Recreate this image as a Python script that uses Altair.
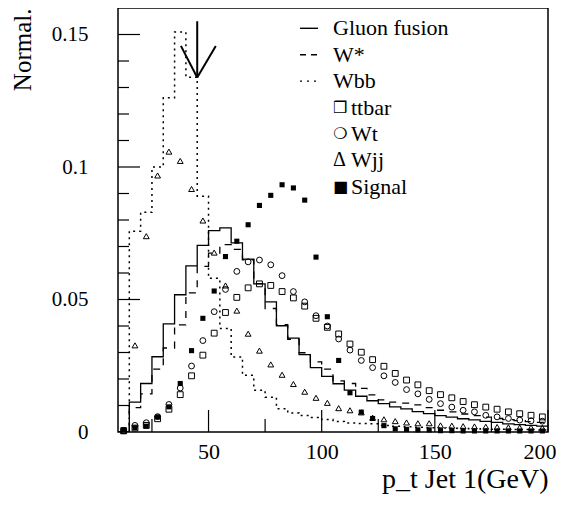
import altair as alt
import pandas as pd

# ---------------- data ----------------
bin_centers = [12.5, 17.5, 22.5, 27.5, 32.5, 37.5, 42.5, 47.5, 52.5, 57.5,
               62.5, 67.5, 72.5, 77.5, 82.5, 87.5, 92.5, 97.5, 102.5, 107.5,
               112.5, 117.5, 122.5, 127.5, 132.5, 137.5, 142.5, 147.5, 152.5, 157.5,
               162.5, 167.5, 172.5, 177.5, 182.5, 187.5, 192.5, 197.5]
bin_width = 5

gluon = [0.0, 0.0113, 0.0183, 0.0284, 0.0408, 0.0518, 0.0627, 0.0704, 0.0760, 0.0770,
         0.0714, 0.0652, 0.0559, 0.0491, 0.0401, 0.0354, 0.0292, 0.0243, 0.0210, 0.0182,
         0.0158, 0.0135, 0.0118, 0.0107, 0.0095, 0.0087, 0.0077, 0.0069, 0.0062, 0.0056,
         0.0050, 0.0046, 0.0040, 0.0036, 0.0031, 0.0028, 0.0025, 0.0022]
wstar = [0.0, 0.0092, 0.0144, 0.0237, 0.0317, 0.0404, 0.0525, 0.0625, 0.0675, 0.0707,
         0.0689, 0.0650, 0.0560, 0.0466, 0.0405, 0.0350, 0.0299, 0.0265, 0.0237, 0.0193,
         0.0183, 0.0165, 0.0140, 0.0121, 0.0113, 0.0109, 0.0102, 0.0092, 0.0082, 0.0076,
         0.0068, 0.0062, 0.0056, 0.0051, 0.0047, 0.0043, 0.0039, 0.0036]
wbb = [0.0, 0.0758, 0.0829, 0.1000, 0.1261, 0.1509, 0.1339, 0.0890, 0.0580, 0.0391,
       0.0283, 0.0214, 0.0158, 0.0131, 0.0088, 0.0072, 0.0062, 0.0055, 0.0047, 0.0040,
       0.0034, 0.0032, 0.0031, 0.0025, 0.0022, 0.0020, 0.0018, 0.0016, 0.0015, 0.0014,
       0.0013, 0.0012, 0.0011, 0.0010, 0.0010, 0.0009, 0.0009, 0.0008]
ttbar = [0.0005, 0.0015, 0.0025, 0.0050, 0.0086, 0.0141, 0.0212, 0.0290, 0.0373, 0.0451,
         0.0508, 0.0544, 0.0559, 0.0553, 0.0530, 0.0506, 0.0475, 0.0429, 0.0395, 0.0370,
         0.0332, 0.0301, 0.0273, 0.0248, 0.0221, 0.0196, 0.0178, 0.0156, 0.0141, 0.0129,
         0.0115, 0.0103, 0.0094, 0.0086, 0.0076, 0.0069, 0.0063, 0.0057]
wt = [0.0005, 0.0025, 0.0035, 0.0058, 0.0104, 0.0166, 0.0249, 0.0345, 0.0454, 0.0538,
      0.0606, 0.0642, 0.0649, 0.0631, 0.0590, 0.0530, 0.0491, 0.0439, 0.0400, 0.0351,
      0.0309, 0.0270, 0.0243, 0.0212, 0.0187, 0.0160, 0.0144, 0.0123, 0.0107, 0.0094,
      0.0082, 0.0076, 0.0063, 0.0057, 0.0051, 0.0045, 0.0042, 0.0041]
wjj = [0.0003, 0.0327, 0.0739, 0.0968, 0.1058, 0.1023, 0.0917, 0.0798, 0.0677, 0.0553,
       0.0458, 0.0371, 0.0307, 0.0255, 0.0216, 0.0181, 0.0152, 0.0129, 0.0110, 0.0090,
       0.0082, 0.0074, 0.0054, 0.0048, 0.0041, 0.0036, 0.0033, 0.0033, 0.0025, 0.0024,
       0.0022, 0.0021, 0.0020, 0.0019, 0.0018, 0.0017, 0.0017, 0.0016]
signal = [0.0008, 0.0016, 0.0022, 0.0057, 0.0095, 0.0183, 0.0307, 0.0429, 0.0532, 0.0662,
          0.0720, 0.0782, 0.0855, 0.0893, 0.0933, 0.0921, 0.0875, 0.0660, 0.0435, 0.0270,
          0.0148, 0.0075, 0.0051, 0.0024, 0.0012, 0.0010, 0.0008, 0.0008, 0.0005, 0.0005,
          0.0004, 0.0004, 0.0004, 0.0004, 0.0004, 0.0004, 0.0004, 0.0004]

x_major = [50, 100, 150, 200]
x_minor = [25, 75, 125, 175]
y_labels = [0, 0.05, 0.1, 0.15]
y_major = [0.05, 0.1, 0.15]
y_minor = [0.01, 0.02, 0.03, 0.04, 0.06, 0.07, 0.08, 0.09, 0.11, 0.12, 0.13, 0.14]

# cut arrow: shaft + two wings (x, y, x2, y2)
arrow_x = [45, 37.8, 53.2]
arrow_y = [0.155, 0.1457, 0.1457]
arrow_x2 = [45, 45, 45]
arrow_y2 = [0.1338, 0.1338, 0.1338]

legend_labels = ["Gluon fusion", "W*", "Wbb", "ttbar", "Wt", "Wjj", "Signal"]
legend_symbols = ["", "", "", "\u2752", "\u274d", "\u0394", "\u25a0"]

# ---------------- chart ----------------
W, H = 430, 424
FONT = "Liberation Serif"
SYMFONT = "DejaVu Sans"

xs = alt.Scale(domain=[10, 200], nice=False, zero=False)
ys = alt.Scale(domain=[0, 0.16], nice=False, zero=True)
xaxis = alt.Axis(values=x_major, title="p_t Jet 1(GeV)", ticks=False, tickSize=0,
                 domain=False, grid=False, labelFont=FONT, labelFontSize=22,
                 labelColor="black", labelPadding=9, labelFontWeight="normal",
                 labelFlush=1, labelFlushOffset=8, labelOverlap=False,
                 titleFont=FONT, titleFontSize=28, titleFontWeight="normal",
                 titleColor="black", titleX=W, titleY=55, titleAlign="right",
                 titleBaseline="alphabetic")
yaxis = alt.Axis(values=y_labels, format="~g", title="Normal.", ticks=False, tickSize=0,
                 domain=False, grid=False, labelFont=FONT, labelFontSize=21,
                 labelColor="black", labelPadding=30, labelFontWeight="normal",
                 labelFlush=False, labelOverlap=False,
                 titleFont=FONT, titleFontSize=25, titleFontWeight="normal",
                 titleColor="black", titleAngle=270, titleX=-96, titleY=0,
                 titleAlign="right", titleBaseline="middle")

X = alt.X("x:Q", scale=xs, axis=xaxis)
Y = alt.Y("y:Q", scale=ys, axis=yaxis)


def hist_df(vals):
    xe = [c - bin_width / 2 for c in bin_centers] + [bin_centers[-1] + bin_width / 2]
    ye = list(vals) + [vals[-1]]
    return pd.DataFrame({"x": xe, "y": ye})


def pts_df(vals):
    return pd.DataFrame({"x": bin_centers, "y": vals})


layers = []
layers.append(alt.Chart(hist_df(gluon)).mark_line(interpolate="step-after", color="black",
                                                   strokeWidth=1.3, clip=True).encode(x=X, y=Y))
layers.append(alt.Chart(hist_df(wstar)).mark_line(interpolate="step-after", color="black",
                                                  strokeWidth=1.3, strokeDash=[7, 7], clip=True).encode(x=X, y=Y))
layers.append(alt.Chart(hist_df(wbb)).mark_line(interpolate="step-after", color="black",
                                                strokeWidth=1.5, strokeDash=[2, 4], clip=True).encode(x=X, y=Y))

layers.append(alt.Chart(pts_df(ttbar)).mark_point(shape="square", filled=False, size=34,
                                                  color="black", strokeWidth=1, opacity=1).encode(x=X, y=Y))
layers.append(alt.Chart(pts_df(wt)).mark_point(shape="circle", filled=False, size=34,
                                               color="black", strokeWidth=1, opacity=1).encode(x=X, y=Y))
layers.append(alt.Chart(pts_df(wjj)).mark_point(shape="triangle-up", filled=False, size=34,
                                                color="black", strokeWidth=1, opacity=1).encode(x=X, y=Y))
layers.append(alt.Chart(pts_df(signal)).mark_point(shape="square", filled=True, size=26,
                                                   color="black", opacity=1).encode(x=X, y=Y))

# inward ticks
layers.append(alt.Chart(pd.DataFrame({"y": y_major})).mark_rule(color="black", strokeWidth=1.2)
              .encode(y=Y, x=alt.value(0), x2=alt.value(22)))
layers.append(alt.Chart(pd.DataFrame({"y": y_minor})).mark_rule(color="black", strokeWidth=1.2)
              .encode(y=Y, x=alt.value(0), x2=alt.value(11)))
layers.append(alt.Chart(pd.DataFrame({"x": x_major})).mark_rule(color="black", strokeWidth=1.2)
              .encode(x=X, y=alt.value(H), y2=alt.value(H - 22)))
layers.append(alt.Chart(pd.DataFrame({"x": x_minor})).mark_rule(color="black", strokeWidth=1.2)
              .encode(x=X, y=alt.value(H), y2=alt.value(H - 13)))

# arrow
arrow_df = pd.DataFrame({"x": arrow_x, "y": arrow_y, "x2": arrow_x2, "y2": arrow_y2})
layers.append(alt.Chart(arrow_df).mark_rule(color="black", strokeWidth=2)
              .encode(x=X, y=Y, x2="x2:Q", y2="y2:Q"))

# legend
one = pd.DataFrame({"a": [0]})
row0, dy = 20.3, 26.4
line_x1, line_x2, text_x = 182, 200, 215
dashes = [None, [6, 5], [2, 5]]
for i, lab in enumerate(legend_labels):
    yy = row0 + i * dy
    tx = text_x
    if i < 3:
        kw = dict(color="black", strokeWidth=1.4)
        if dashes[i] is not None:
            kw["strokeDash"] = dashes[i]
        layers.append(alt.Chart(one).mark_rule(**kw).encode(
            x=alt.value(line_x1), x2=alt.value(line_x2), y=alt.value(yy)))
    else:
        sym = legend_symbols[i]
        sfont = FONT if sym == "\u0394" else SYMFONT
        ssize = 20 if sym == "\u0394" else 16
        layers.append(alt.Chart(pd.DataFrame({"t": [sym]})).mark_text(
            align="left", baseline="middle", font=sfont, fontSize=ssize, color="black").encode(
            x=alt.value(text_x), y=alt.value(yy), text="t:N"))
        tx = text_x + 18
    layers.append(alt.Chart(pd.DataFrame({"t": [lab]})).mark_text(
        align="left", baseline="middle", font=FONT, fontSize=22, color="black").encode(
        x=alt.value(tx), y=alt.value(yy), text="t:N"))

chart = alt.layer(*layers).properties(
    width=W, height=H,
    padding={"left": 110, "top": 0, "right": 8, "bottom": 70},
    autosize=alt.AutoSizeParams(type="none"),
    background="white",
).configure_view(stroke="black", strokeWidth=1.5).configure_axis(grid=False)

chart.save("out.html", embed_options={"renderer": "svg", "actions": False})
